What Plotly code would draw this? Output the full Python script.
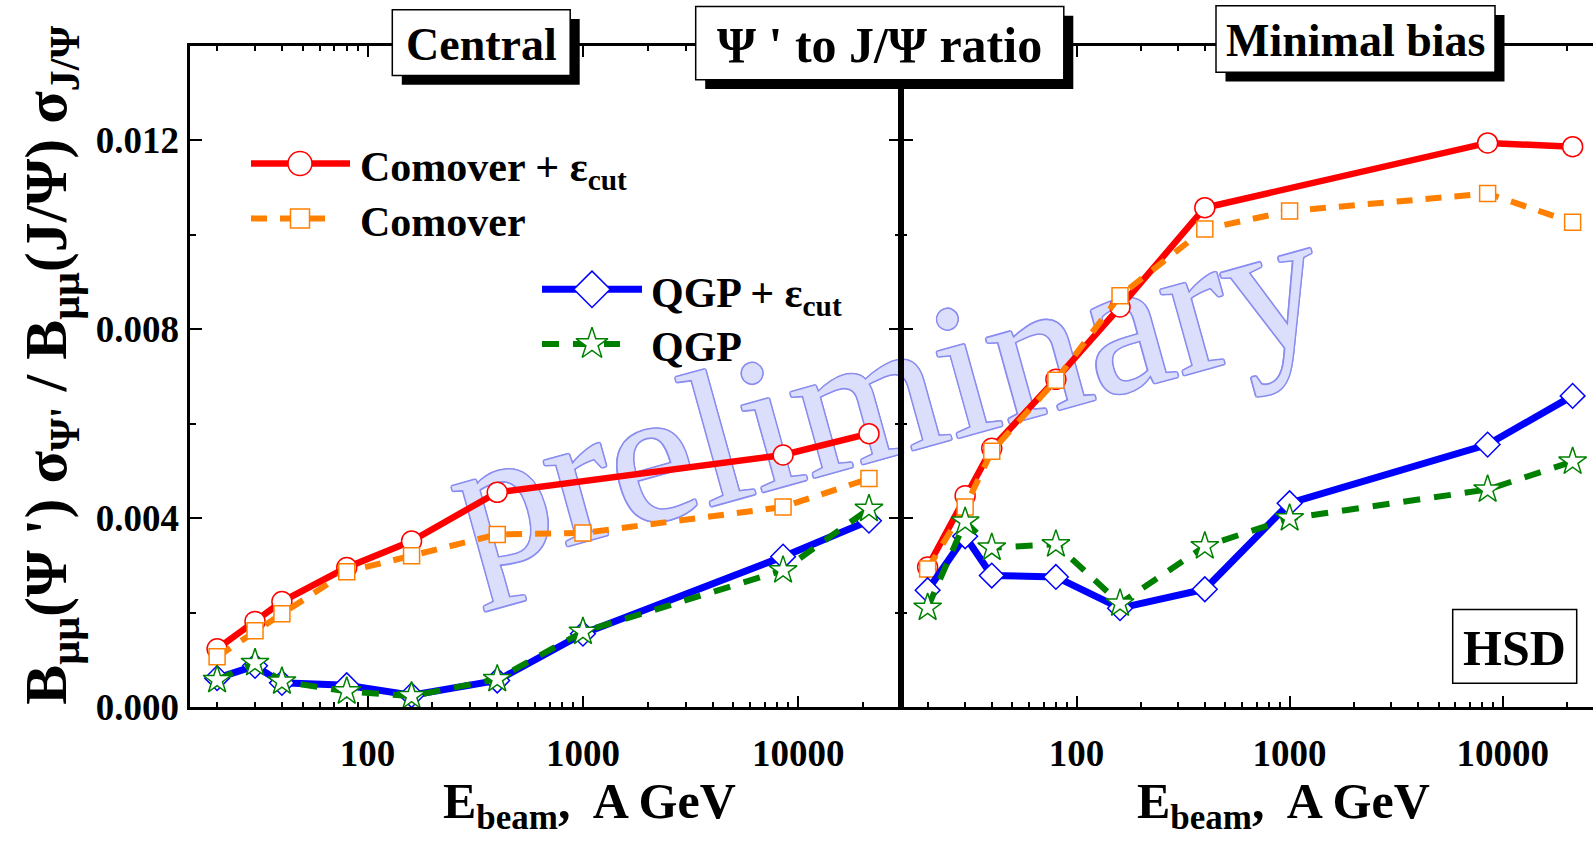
import numpy as np
import plotly.graph_objects as go

W, H = 1593, 844

# Beam energies (A GeV)
energy = [20, 30, 40, 80, 160, 400, 1000, 8500, 21300]
energy_no1000 = [20, 30, 40, 80, 160, 400, 8500, 21300]

# Central collisions
central_comover_cut = [0.00124, 0.00182, 0.00224, 0.00296, 0.00352, 0.00455, 0.00534, 0.00579]
central_comover = [0.00107, 0.00162, 0.00198, 0.00287, 0.00321, 0.00366, 0.00369, 0.00424, 0.00484]
central_qgp_cut = [0.00062, 0.00088, 0.00052, 0.00047, 0.00026, 0.00057, 0.00156, 0.00319, 0.00395]
central_qgp = [0.00058, 0.00094, 0.00055, 0.00034, 0.00024, 0.00060, 0.00160, 0.00290, 0.00420]

# Minimal bias collisions
minbias_comover_cut = [0.00297, 0.00448, 0.00548, 0.00694, 0.00847, 0.01057, 0.01194, 0.01186]
minbias_comover = [0.00293, 0.00424, 0.00542, 0.00692, 0.00871, 0.01012, 0.01050, 0.01087, 0.01026]
minbias_qgp_cut = [0.00248, 0.00362, 0.00279, 0.00276, 0.00210, 0.00250, 0.00432, 0.00556, 0.00659]
minbias_qgp = [0.00211, 0.00393, 0.00338, 0.00345, 0.00220, 0.00341, 0.00400, 0.00461, 0.00520]

y_ticks = [0.0, 0.004, 0.008, 0.012]
x_ticks = [100, 1000, 10000]
x_minor = [20, 30, 40, 50, 60, 70, 80, 90, 200, 300, 400, 500, 600, 700, 800, 900,
           2000, 3000, 4000, 5000, 6000, 7000, 8000, 9000, 20000]

SERIF = "Liberation Serif"
RED, ORANGE, BLUE, GREEN = "#ff0000", "#ff8000", "#0000ff", "#008000"


def px(x):
    return x / W


def py(y):
    return 1 - y / H


styles = {
    "comover_cut": dict(line=dict(color=RED, width=6.5),
                        marker=dict(symbol="circle", size=20, color="white",
                                    line=dict(color=RED, width=1.5))),
    "comover": dict(line=dict(color=ORANGE, width=6, dash="16px,13px"),
                    marker=dict(symbol="square", size=16, color="white",
                                line=dict(color=ORANGE, width=1.5))),
    "qgp_cut": dict(line=dict(color=BLUE, width=7),
                    marker=dict(symbol="diamond", size=19, color="white",
                                line=dict(color=BLUE, width=1.5))),
    "qgp": dict(line=dict(color=GREEN, width=6, dash="17px,14px"),
                marker=dict(symbol="star", size=21, color="white",
                            line=dict(color=GREEN, width=1.5))),
}

fig = go.Figure()

panels = [
    ("x", "y", central_comover_cut, central_comover, central_qgp_cut, central_qgp),
    ("x2", "y2", minbias_comover_cut, minbias_comover, minbias_qgp_cut, minbias_qgp),
]
for xa, ya, cc, co, qc, qg in panels:
    for xs, ys, key in [(energy_no1000, cc, "comover_cut"), (energy, co, "comover"),
                        (energy, qc, "qgp_cut"), (energy, qg, "qgp")]:
        fig.add_trace(go.Scatter(x=xs, y=ys, mode="lines+markers", xaxis=xa, yaxis=ya,
                                 showlegend=False, hoverinfo="skip", **styles[key]))

# Legend keys drawn on a pixel-space overlay
legend_keys = [
    ("comover_cut", 251, 350, 300, 167.7, 24),
    ("comover", 251, 330, 300, 224, 19),
    ("qgp_cut", 542, 642, 592, 296.7, 28),
    ("qgp", 542, 620, 592, 352.7, 24),
]
for key, x0, x1, xm, yk, msize in legend_keys:
    st = styles[key]
    fig.add_trace(go.Scatter(x=[x0, x1], y=[yk, yk], mode="lines", line=st["line"],
                             xaxis="x3", yaxis="y3", showlegend=False, hoverinfo="skip",
                             cliponaxis=False))
    mk = dict(st["marker"])
    mk["size"] = msize
    fig.add_trace(go.Scatter(x=[xm], y=[yk], mode="markers", marker=mk,
                             xaxis="x3", yaxis="y3", showlegend=False, hoverinfo="skip",
                             cliponaxis=False))

tickfont = dict(family=SERIF, size=37, color="black", weight="bold")
xl = [px(190.2), px(901)]
xr = [px(901), 1.0]
ydom = [py(725.5), py(46.7)]

common_x = dict(type="log", showline=True, linecolor="black", linewidth=2.5,
                ticks="inside", ticklen=12, tickwidth=2, tickcolor="black",
                tickvals=x_ticks, ticktext=[str(v) for v in x_ticks],
                tickfont=tickfont, ticklabelstandoff=11,
                minor=dict(ticks="inside", ticklen=6, tickwidth=2, tickcolor="black",
                           tickvals=x_minor, showgrid=False),
                showgrid=False, zeroline=False, mirror="ticks")
common_y = dict(range=[0, 0.014], showline=True, linecolor="black", linewidth=2.5,
                ticks="inside", ticklen=12, tickwidth=2, tickcolor="black",
                tickvals=y_ticks, ticktext=[f"{v:.3f}" for v in y_ticks],
                tickfont=tickfont, ticklabelstandoff=1,
                minor=dict(ticks="inside", ticklen=6, tickwidth=2, tickcolor="black",
                           dtick=0.002, showgrid=False),
                showgrid=False, zeroline=False)

fig.update_layout(
    width=W, height=H, margin=dict(l=0, r=0, t=0, b=0),
    paper_bgcolor="white", plot_bgcolor="rgba(0,0,0,0)",
    xaxis=dict(domain=xl, range=[np.log10(15), np.log10(30000)], anchor="y", **common_x),
    xaxis2=dict(domain=xr, range=[np.log10(15), 4.424], anchor="y2", **common_x),
    yaxis=dict(domain=ydom, anchor="x", mirror="ticks", **common_y),
    yaxis2=dict(domain=ydom, anchor="x2", mirror=False, showticklabels=False, **common_y),
    xaxis3=dict(domain=[0, 1], range=[0, W], anchor="y3", visible=False),
    yaxis3=dict(domain=[0, 1], range=[H, 0], anchor="x3", visible=False),
)

shapes = []
annotations = []

# Watermark behind the curves
outline = "#8a8df0"
shadow = ", ".join(f"{dx}px {dy}px 0 {outline}" for dx, dy in
                   [(1.6, 0), (-1.6, 0), (0, 1.6), (0, -1.6), (1.1, 1.1), (-1.1, -1.1),
                    (1.1, -1.1), (-1.1, 1.1)])
wm_cx, wm_cy = 880, 380
shapes.append(dict(type="rect", xref="paper", yref="paper", layer="below",
                   x0=px(wm_cx - 400), x1=px(wm_cx + 400),
                   y0=py(wm_cy + 100), y1=py(wm_cy - 100),
                   line=dict(width=0), fillcolor="rgba(0,0,0,0)",
                   label=dict(text="preliminary", textposition="middle center",
                              textangle=-15.5,
                              font=dict(family=SERIF, size=192, color="#dcdffb",
                                        shadow=shadow))))


def title_box(x0, y0, x1, y1, text, size, shade=9.5):
    if shade:
        shapes.append(dict(type="rect", xref="paper", yref="paper", layer="above",
                           x0=px(x0 + shade), x1=px(x1 + shade),
                           y0=py(y1 + shade), y1=py(y0 + shade),
                           line=dict(width=0), fillcolor="black"))
    shapes.append(dict(type="rect", xref="paper", yref="paper", layer="above",
                       x0=px(x0), x1=px(x1), y0=py(y1), y1=py(y0),
                       line=dict(width=1.5, color="black"), fillcolor="white"))
    annotations.append(dict(xref="paper", yref="paper", x=px((x0 + x1) / 2),
                            y=py((y0 + y1) / 2 + 2), text=text, showarrow=False,
                            xanchor="center", yanchor="middle",
                            font=dict(family=SERIF, size=size, color="black",
                                      weight="bold")))


title_box(392.3, 10, 570.2, 77.3, "Central", 46)
title_box(695.7, 6.7, 1063.8, 81.7, "Ψ ' to J/Ψ ratio", 50)
title_box(1216, 6, 1495, 74, "Minimal bias", 46)
title_box(1452.7, 625, 1576.7, 700.7, "HSD", 50, shade=0)

legend_font = dict(family=SERIF, size=42, color="black", weight="bold")
for text, xt, yt in [("Comover + ε<sub>cut</sub>", 358, 167.7),
                     ("Comover", 358, 224),
                     ("QGP + ε<sub>cut</sub>", 649, 296.7),
                     ("QGP", 649, 352.7)]:
    annotations.append(dict(xref="paper", yref="paper", x=px(xt), y=py(yt - 22),
                            text=text, showarrow=False, xanchor="left", yanchor="top",
                            font=legend_font))

axis_title_font = dict(family=SERIF, size=50, color="black", weight="bold")
for xc in (589, 1283.5):
    annotations.append(dict(xref="paper", yref="paper", x=px(xc), y=py(791),
                            text="E<sub>beam</sub>,  A GeV", showarrow=False,
                            xanchor="center", yanchor="top", font=axis_title_font))

annotations.append(dict(xref="paper", yref="paper", x=px(51), y=py(375),
                        text="B<sub>μμ</sub>(Ψ ') σ<sub>Ψ'</sub> / B<sub>μμ</sub>(J/Ψ) σ<sub>J/Ψ</sub>",
                        showarrow=False, textangle=-90, xanchor="center", yanchor="middle",
                        font=dict(family=SERIF, size=60, color="black", weight="bold")))

fig.update_layout(shapes=shapes, annotations=annotations)
fig.write_html("out.html")
